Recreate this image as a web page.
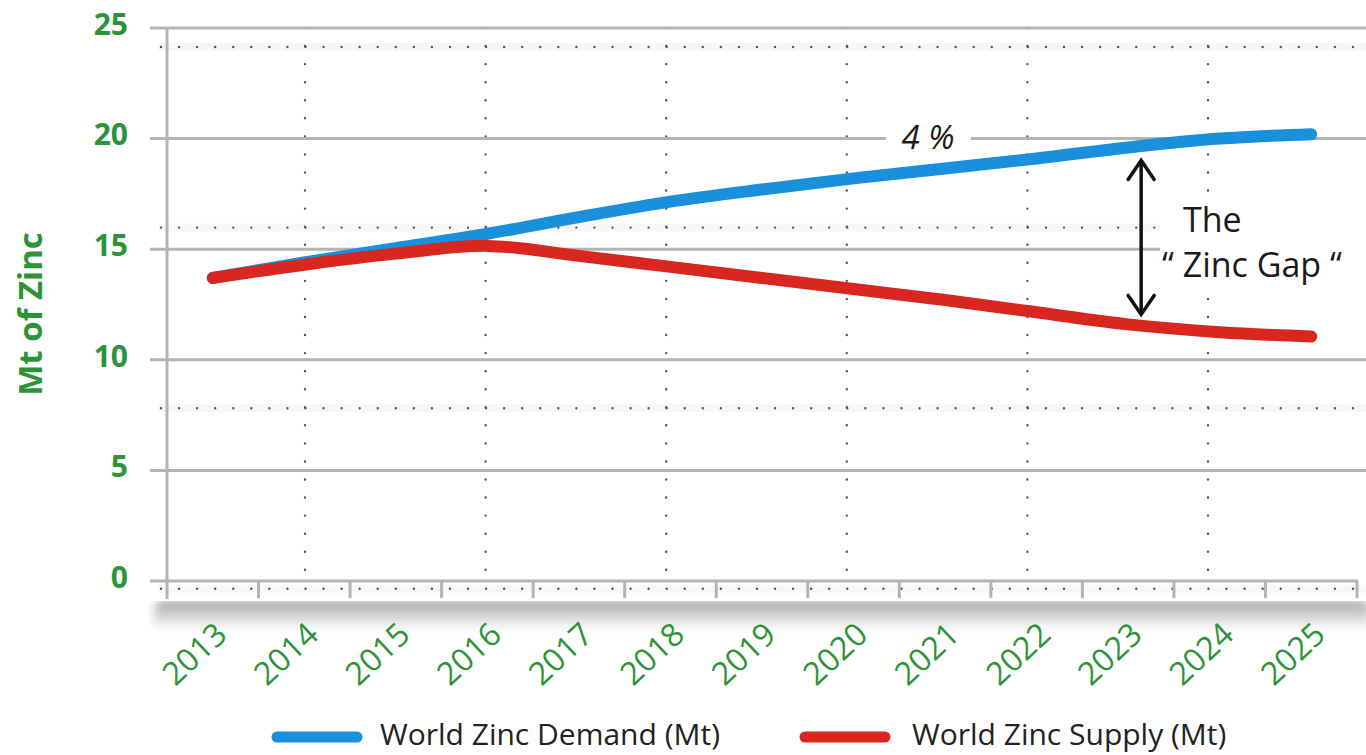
<!DOCTYPE html>
<html>
<head>
<meta charset="utf-8">
<script src="https://cdn.jsdelivr.net/npm/d3@7"></script>
<style>
  html, body { margin: 0; padding: 0; background: #fff; }
  svg { display: block; }
</style>
</head>
<body>
<script>
// chart data
const years = [2013, 2014, 2015, 2016, 2017, 2018, 2019, 2020, 2021, 2022, 2023, 2024, 2025];
const demand = [13.7, 14.4, 15.05, 15.7, 16.45, 17.15, 17.7, 18.2, 18.65, 19.1, 19.6, 20.0, 20.2];
const supply = [13.7, 14.3, 14.8, 15.15, 14.7, 14.2, 13.7, 13.2, 12.7, 12.15, 11.6, 11.25, 11.05];
const yTicks = [0, 5, 10, 15, 20, 25];
const seriesNames = ["World Zinc Demand (Mt)", "World Zinc Supply (Mt)"];
const seriesColors = ["#1a8fdb", "#d9261f"];

const width = 1366;
const height = 755;
const green = "#2e9338";
const gridGrey = "#b4b4b4";
const font = "'Open Sans', 'Noto Sans', sans-serif";
const margin = { left: 167, right: 9, top: 28, bottom: 174 };
const dotStep = 180.6; // spacing of the dotted background grid
const dotOrigin = { x: 305, y: 47 };

const x = d3
  .scaleBand()
  .domain(years)
  .range([margin.left, width - margin.right])
  .padding(0);
const xc = (yr) => x(yr) + x.bandwidth() / 2;
const y = d3
  .scaleLinear()
  .domain([0, 25])
  .range([height - margin.bottom, margin.top]);

const svg = d3
  .select("body")
  .append("svg")
  .attr("width", width)
  .attr("height", height)
  .style("font-family", font);

const defs = svg.append("defs");
defs
  .append("filter")
  .attr("id", "soft")
  .append("feGaussianBlur")
  .attr("stdDeviation", 0.6);
defs
  .append("filter")
  .attr("id", "shadowBlur")
  .attr("x", "-5%")
  .attr("y", "-50%")
  .attr("width", "110%")
  .attr("height", "200%")
  .append("feGaussianBlur")
  .attr("stdDeviation", 4);
const grad = defs
  .append("linearGradient")
  .attr("id", "shadowGrad")
  .attr("x1", 0)
  .attr("y1", 0)
  .attr("x2", 0)
  .attr("y2", 1);
grad.append("stop").attr("offset", "0%").attr("stop-color", "#a4a4a4");
grad.append("stop").attr("offset", "100%").attr("stop-color", "#ffffff");

function drawShadow() {
  // soft grey drop shadow below the plot area
  svg
    .append("rect")
    .attr("x", 154)
    .attr("y", y(0) + 19)
    .attr("width", width - 150)
    .attr("height", 30)
    .attr("rx", 10)
    .attr("fill", "url(#shadowGrad)")
    .attr("filter", "url(#shadowBlur)");
  svg
    .append("rect")
    .attr("x", 140)
    .attr("y", y(0) - 2)
    .attr("width", width - 140)
    .attr("height", 22)
    .attr("fill", "#fff");
}

function drawDottedGrid() {
  const g = svg.append("g").attr("class", "dotGrid");
  const rows = d3.range(4).map((i) => dotOrigin.y + i * dotStep);
  const cols = d3.range(6).map((i) => dotOrigin.x + i * dotStep);
  // faint haze behind dotted rows
  g.selectAll("line.haze")
    .data(rows)
    .enter()
    .append("line")
    .attr("class", "haze")
    .attr("x1", 158)
    .attr("x2", width)
    .attr("y1", (d) => d)
    .attr("y2", (d) => d)
    .attr("stroke", "#f7f7f7")
    .attr("stroke-width", 8);
  g.selectAll("line.row")
    .data(rows)
    .enter()
    .append("line")
    .attr("class", "row")
    .attr("x1", 161)
    .attr("x2", width)
    .attr("y1", (d) => d)
    .attr("y2", (d) => d)
    .attr("stroke", "#555")
    .attr("stroke-width", 2.4)
    .attr("stroke-linecap", "round")
    .attr("stroke-dasharray", "0 18.06");
  g.selectAll("line.col")
    .data(cols)
    .enter()
    .append("line")
    .attr("class", "col")
    .attr("x1", (d) => d)
    .attr("x2", (d) => d)
    .attr("y1", dotOrigin.y - 19)
    .attr("y2", y(0) - 2)
    .attr("stroke", "#555")
    .attr("stroke-width", 2.4)
    .attr("stroke-linecap", "round")
    .attr("stroke-dasharray", "0 18.06");
}

function drawGrid() {
  const g = svg.append("g").attr("class", "grid").attr("filter", "url(#soft)");
  g.selectAll("line.h")
    .data(yTicks)
    .enter()
    .append("line")
    .attr("class", "h")
    .attr("x1", 150)
    .attr("x2", (d) => (d === 0 ? width - margin.right + 1 : width))
    .attr("y1", (d) => y(d))
    .attr("y2", (d) => y(d))
    .attr("stroke", gridGrey)
    .attr("stroke-width", 3);
  // vertical axis line
  g.append("line")
    .attr("x1", margin.left)
    .attr("x2", margin.left)
    .attr("y1", y(25))
    .attr("y2", y(0) + 18)
    .attr("stroke", gridGrey)
    .attr("stroke-width", 3);
  // year boundary ticks
  const bounds = years.slice(1).map((d) => x(d)).concat([width - margin.right]);
  g.selectAll("line.t")
    .data(bounds)
    .enter()
    .append("line")
    .attr("class", "t")
    .attr("x1", (d) => d)
    .attr("x2", (d) => d)
    .attr("y1", y(0))
    .attr("y2", y(0) + 17)
    .attr("stroke", gridGrey)
    .attr("stroke-width", 3);
}

function drawAxes() {
  // y labels
  svg
    .append("g")
    .selectAll("text")
    .data(yTicks)
    .enter()
    .append("text")
    .attr("x", 128)
    .attr("y", (d) => y(d) - 4)
    .attr("dy", "0.36em")
    .attr("text-anchor", "end")
    .attr("fill", green)
    .attr("font-weight", 700)
    .attr("font-size", 30)
    .text((d) => d);

  svg
    .append("text")
    .attr("transform", `translate(42, ${314}) rotate(-90)`)
    .attr("text-anchor", "middle")
    .attr("fill", green)
    .attr("font-weight", 700)
    .attr("font-size", 33)
    .text("Mt of Zinc");

  // x labels, rotated
  svg
    .append("g")
    .selectAll("text")
    .data(years)
    .enter()
    .append("text")
    .attr("transform", (d) => `translate(${xc(d) + 16}, ${y(0) + 56}) rotate(-43)`)
    .attr("text-anchor", "end")
    .attr("fill", green)
    .attr("font-size", 32)
    .text((d) => d);
}

function drawLines() {
  const line = d3
    .line()
    .x((d, i) => xc(years[i]))
    .y((d) => y(d))
    .curve(d3.curveCatmullRom.alpha(0.5));
  svg
    .append("g")
    .selectAll("path")
    .data([demand, supply])
    .enter()
    .append("path")
    .attr("d", (d) => line(d))
    .attr("fill", "none")
    .attr("stroke", (d, i) => seriesColors[i])
    .attr("stroke-width", 12)
    .attr("stroke-linecap", "round");
}

function drawAnnotations() {
  // "4 %" growth label on the 20 gridline
  svg
    .append("rect")
    .attr("x", 886)
    .attr("y", y(20) - 22)
    .attr("width", 85)
    .attr("height", 42)
    .attr("fill", "#fff");
  svg
    .append("text")
    .attr("x", 928)
    .attr("y", y(20) + 10)
    .attr("text-anchor", "middle")
    .attr("font-style", "italic")
    .attr("font-size", 33)
    .attr("fill", "#1a1a1a")
    .text("4 %");

  // the gap arrow at 2023
  const gi = years.indexOf(2023);
  const ax = xc(2023) + 13;
  const top = y(demand[gi]) + 13;
  const bot = y(supply[gi]) - 10;
  const arrow = svg
    .append("g")
    .attr("stroke", "#111")
    .attr("stroke-width", 3.5)
    .attr("fill", "none")
    .attr("stroke-linecap", "round");
  arrow.append("line").attr("x1", ax).attr("x2", ax).attr("y1", top + 1).attr("y2", bot - 1);
  arrow
    .append("path")
    .attr("d", `M${ax - 13},${top + 19} L${ax},${top} L${ax + 13},${top + 19}`);
  arrow
    .append("path")
    .attr("d", `M${ax - 13},${bot - 19} L${ax},${bot} L${ax + 13},${bot - 19}`);

  svg
    .append("rect")
    .attr("x", 1160)
    .attr("y", 198)
    .attr("width", width - 1160)
    .attr("height", 92)
    .attr("fill", "#fff");
  const gap = svg
    .append("text")
    .attr("font-size", 34)
    .attr("fill", "#1a1a1a");
  gap.append("tspan").attr("x", 1183).attr("y", 232).text("The");
  gap.append("tspan").attr("x", 1162).attr("y", 277).text("\u201C Zinc Gap \u201C");
}

function drawLegend() {
  const items = [
    { x1: 277, x2: 357, tx: 380 },
    { x1: 805, x2: 885, tx: 912 },
  ];
  const lg = svg
    .append("g")
    .selectAll("g")
    .data(seriesNames)
    .enter()
    .append("g");
  lg.append("line")
    .attr("x1", (d, i) => items[i].x1)
    .attr("x2", (d, i) => items[i].x2)
    .attr("y1", 737)
    .attr("y2", 737)
    .attr("stroke", (d, i) => seriesColors[i])
    .attr("stroke-width", 11)
    .attr("stroke-linecap", "round");
  lg.append("text")
    .attr("x", (d, i) => items[i].tx)
    .attr("y", 734)
    .attr("dy", "0.35em")
    .attr("font-size", 30)
    .attr("fill", "#222")
    .text((d) => d);
}

drawShadow();
drawDottedGrid();
drawGrid();
drawAxes();
drawLines();
drawAnnotations();
drawLegend();
</script>
</body>
</html>
